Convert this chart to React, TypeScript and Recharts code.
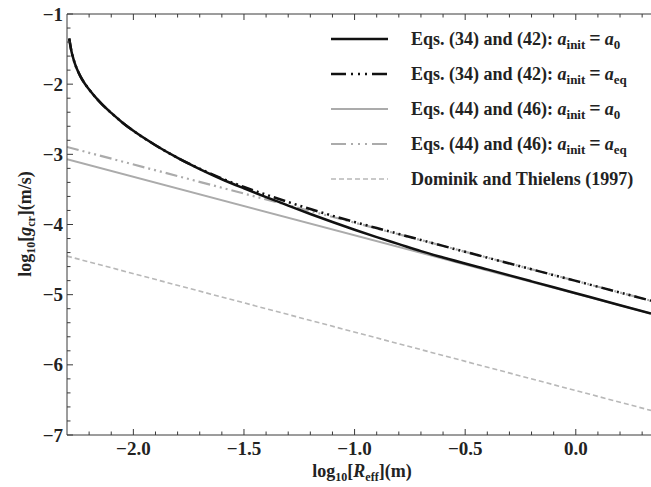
import React from 'react';
import { LineChart, Line, XAxis, YAxis, Legend } from 'recharts';

const FONT = '"Liberation Serif", "Times New Roman", serif';

const xTicks = [-2.2, -2.1, -2.0, -1.9, -1.8, -1.7, -1.6, -1.5, -1.4, -1.3, -1.2, -1.1, -1.0, -0.9, -0.8, -0.7, -0.6, -0.5, -0.4, -0.3, -0.2, -0.1, 0.0, 0.1, 0.2, 0.3];
const xMajorLabels = ['−2.0', '−1.5', '−1.0', '−0.5', '0.0'];
const xMajorValues = [-2.0, -1.5, -1.0, -0.5, 0.0];
const yTicks = [-7, -6.8, -6.6, -6.4, -6.2, -6, -5.8, -5.6, -5.4, -5.2, -5, -4.8, -4.6, -4.4, -4.2, -4, -3.8, -3.6, -3.4, -3.2, -3, -2.8, -2.6, -2.4, -2.2, -2, -1.8, -1.6, -1.4, -1.2, -1];
const yMajorValues = [-7, -6, -5, -4, -3, -2, -1];
const yMajorLabels = ['−7', '−6', '−5', '−4', '−3', '−2', '−1'];

const blackA0 = [
  { x: -2.29, y: -1.35 }, { x: -2.28, y: -1.53 }, { x: -2.27, y: -1.65 }, { x: -2.26, y: -1.745 },
  { x: -2.25, y: -1.82 }, { x: -2.24, y: -1.885 }, { x: -2.22, y: -1.99 }, { x: -2.2, y: -2.075 },
  { x: -2.15, y: -2.26 }, { x: -2.1, y: -2.41 }, { x: -2.05, y: -2.545 }, { x: -2.0, y: -2.665 },
  { x: -1.9, y: -2.87 }, { x: -1.8, y: -3.05 }, { x: -1.7, y: -3.21 }, { x: -1.6, y: -3.355 },
  { x: -1.5, y: -3.485 }, { x: -1.4, y: -3.61 }, { x: -1.3, y: -3.73 }, { x: -1.2, y: -3.85 },
  { x: -1.1, y: -3.965 }, { x: -1.0, y: -4.075 }, { x: -0.9, y: -4.18 }, { x: -0.8, y: -4.28 },
  { x: -0.7, y: -4.38 }, { x: -0.6, y: -4.47 }, { x: -0.4, y: -4.64 }, { x: -0.2, y: -4.81 },
  { x: 0.0, y: -4.98 }, { x: 0.2, y: -5.15 }, { x: 0.34, y: -5.27 },
];
const blackAeq = [
  { x: -2.29, y: -1.35 }, { x: -2.28, y: -1.53 }, { x: -2.27, y: -1.65 }, { x: -2.26, y: -1.745 },
  { x: -2.25, y: -1.82 }, { x: -2.24, y: -1.885 }, { x: -2.22, y: -1.99 }, { x: -2.2, y: -2.075 },
  { x: -2.15, y: -2.26 }, { x: -2.1, y: -2.41 }, { x: -2.05, y: -2.545 }, { x: -2.0, y: -2.665 },
  { x: -1.9, y: -2.87 }, { x: -1.8, y: -3.05 }, { x: -1.7, y: -3.205 }, { x: -1.6, y: -3.345 },
  { x: -1.5, y: -3.465 }, { x: -1.4, y: -3.575 }, { x: -1.3, y: -3.68 }, { x: -1.2, y: -3.78 },
  { x: -1.1, y: -3.875 }, { x: -1.0, y: -3.965 }, { x: -0.9, y: -4.05 }, { x: -0.8, y: -4.135 },
  { x: -0.7, y: -4.22 }, { x: -0.6, y: -4.305 }, { x: -0.4, y: -4.472 }, { x: -0.2, y: -4.638 },
  { x: 0.0, y: -4.804 }, { x: 0.2, y: -4.97 }, { x: 0.34, y: -5.086 },
];
const grayA0 = [{ x: -2.3, y: -3.07 }, { x: 0.34, y: -5.27 }];
const grayAeq = [{ x: -2.3, y: -2.895 }, { x: 0.34, y: -5.086 }];
const dominik = [{ x: -2.3, y: -4.45 }, { x: 0.34, y: -6.65 }];

const BLACK = '#111111';
const GRAY = '#ababab';
const GRAY_D = '#b8b8b8';
const AXIS = '#3a3a3a';
const DASHDOT = '12 4 2 4 2 4 2 4';
const DASHDOT_LEG = '15 5 2 5 2 5 2 5';

const legendEntries = [
  { label: 'Eqs. (34) and (42): ', sub: '0', color: BLACK, dash: undefined as string | undefined, width: 2.5 },
  { label: 'Eqs. (34) and (42): ', sub: 'eq', color: BLACK, dash: DASHDOT_LEG, width: 2.5 },
  { label: 'Eqs. (44) and (46): ', sub: '0', color: GRAY, dash: undefined, width: 2 },
  { label: 'Eqs. (44) and (46): ', sub: 'eq', color: GRAY, dash: DASHDOT_LEG, width: 2 },
  { label: 'Dominik and Thielens (1997)', sub: null as string | null, color: GRAY_D, dash: '5 3', width: 1.5 },
];

const near = (a: number, arr: number[]) => arr.findIndex((b) => Math.abs(a - b) < 1e-6);

const BottomTick = (props: any) => {
  const { x, y, payload } = props;
  const idx = near(payload.value, xMajorValues);
  const major = idx >= 0;
  return (
    <g>
      <line x1={x} x2={x} y1={y} y2={y - (major ? 6 : 3.5)} stroke={AXIS} strokeWidth={1} />
      {major && (
        <text x={x} y={y + 20} textAnchor="middle" fontFamily={FONT} fontWeight="bold" fontSize={19} fill="#222">
          {xMajorLabels[idx]}
        </text>
      )}
    </g>
  );
};

const TopTick = (props: any) => {
  const { x, y, payload } = props;
  const major = near(payload.value, xMajorValues) >= 0;
  return <line x1={x} x2={x} y1={y} y2={y + (major ? 6 : 3.5)} stroke={AXIS} strokeWidth={1} />;
};

const LeftTick = (props: any) => {
  const { x, y, payload } = props;
  const idx = near(payload.value, yMajorValues);
  const major = idx >= 0;
  return (
    <g>
      <line x1={x} x2={x + (major ? 6 : 3.5)} y1={y} y2={y} stroke={AXIS} strokeWidth={1} />
      {major && (
        <text x={x - 4} y={y + 6.5} textAnchor="end" fontFamily={FONT} fontWeight="bold" fontSize={19} fill="#222">
          {yMajorLabels[idx]}
        </text>
      )}
    </g>
  );
};

const XTitle = () => (
  <text x={362} y={477} textAnchor="middle" fontFamily={FONT} fontWeight="bold" fontSize={18} fill="#222">
    log<tspan fontSize={12} dy={4}>10</tspan>
    <tspan dy={-4}>[</tspan>
    <tspan fontStyle="italic">R</tspan>
    <tspan fontSize={12} dy={4}>eff</tspan>
    <tspan dy={-4}>](m)</tspan>
  </text>
);

const YTitle = () => (
  <text transform="translate(31,224) rotate(-90)" textAnchor="middle" fontFamily={FONT} fontWeight="bold" fontSize={18} fill="#222">
    log<tspan fontSize={12} dy={4}>10</tspan>
    <tspan dy={-4}>[</tspan>
    <tspan fontStyle="italic">g</tspan>
    <tspan fontSize={12} dy={4}>cr</tspan>
    <tspan dy={-4}>](m/s)</tspan>
  </text>
);

const subStyle: React.CSSProperties = { fontSize: 13, position: 'relative', top: 4 };
const eqStyle: React.CSSProperties = { fontSize: 20, margin: '0 4px' };

const LegendContent = () => (
  <div style={{ fontFamily: FONT, fontWeight: 'bold', fontSize: 18, color: '#222' }}>
    {legendEntries.map((e, i) => (
      <div key={i} style={{ display: 'flex', alignItems: 'center', height: 35, whiteSpace: 'nowrap' }}>
        <svg width={57} height={10} style={{ display: 'block' }}>
          <line x1={0} y1={5} x2={57} y2={5} stroke={e.color} strokeWidth={e.width} strokeDasharray={e.dash} />
        </svg>
        <span style={{ marginLeft: 23, lineHeight: '18px' }}>
          {e.label}
          {e.sub !== null && (
            <>
              <i>a</i>
              <span style={subStyle}>init</span>
              <span style={eqStyle}>=</span>
              <i>a</i>
              <span style={subStyle}>{e.sub}</span>
            </>
          )}
        </span>
      </div>
    ))}
  </div>
);

export default function App() {
  return (
    <div style={{ position: 'absolute', left: 0, top: 0, width: 651, height: 487, background: '#fff' }}>
      <LineChart width={651} height={487} margin={{ top: 0, right: 0, bottom: 0, left: 0 }}>
        <XAxis
          xAxisId="b"
          type="number"
          dataKey="x"
          domain={[-2.3, 0.34]}
          allowDataOverflow
          ticks={xTicks}
          interval={0}
          tick={BottomTick}
          tickLine={false}
          tickSize={0}
          tickMargin={0}
          axisLine={{ stroke: AXIS, strokeWidth: 1 }}
          height={52}
          label={XTitle}
        />
        <XAxis
          xAxisId="t"
          orientation="top"
          type="number"
          dataKey="x"
          domain={[-2.3, 0.34]}
          allowDataOverflow
          ticks={xTicks}
          interval={0}
          tick={TopTick}
          tickLine={false}
          tickSize={0}
          tickMargin={0}
          axisLine={{ stroke: AXIS, strokeWidth: 1 }}
          height={14}
        />
        <YAxis
          yAxisId="l"
          type="number"
          dataKey="y"
          domain={[-7, -1]}
          allowDataOverflow
          ticks={yTicks}
          interval={0}
          tick={LeftTick}
          tickLine={false}
          tickSize={0}
          tickMargin={0}
          axisLine={{ stroke: AXIS, strokeWidth: 1 }}
          width={67}
          label={YTitle}
        />
        <Legend
          content={LegendContent}
          layout="horizontal"
          verticalAlign="middle"
          align="center"
          wrapperStyle={{ left: 331, top: 21.5, width: 320 }}
        />
        <Line xAxisId="b" yAxisId="l" data={dominik} dataKey="y" name="Dominik and Thielens (1997)" type="linear" stroke={GRAY_D} strokeWidth={1.6} strokeDasharray="5 3" dot={false} isAnimationActive={false} />
        <Line xAxisId="b" yAxisId="l" data={grayA0} dataKey="y" name="Eqs. (44) and (46): a0" type="linear" stroke={GRAY} strokeWidth={2} dot={false} isAnimationActive={false} />
        <Line xAxisId="b" yAxisId="l" data={grayAeq} dataKey="y" name="Eqs. (44) and (46): aeq" type="linear" stroke={GRAY} strokeWidth={2.2} strokeDasharray={DASHDOT} dot={false} isAnimationActive={false} />
        <Line xAxisId="b" yAxisId="l" data={blackA0} dataKey="y" name="Eqs. (34) and (42): a0" type="monotone" stroke={BLACK} strokeWidth={2.5} dot={false} isAnimationActive={false} />
        <Line xAxisId="b" yAxisId="l" data={blackAeq} dataKey="y" name="Eqs. (34) and (42): aeq" type="monotone" stroke={BLACK} strokeWidth={2.5} strokeDasharray={DASHDOT} dot={false} isAnimationActive={false} />
      </LineChart>
    </div>
  );
}
